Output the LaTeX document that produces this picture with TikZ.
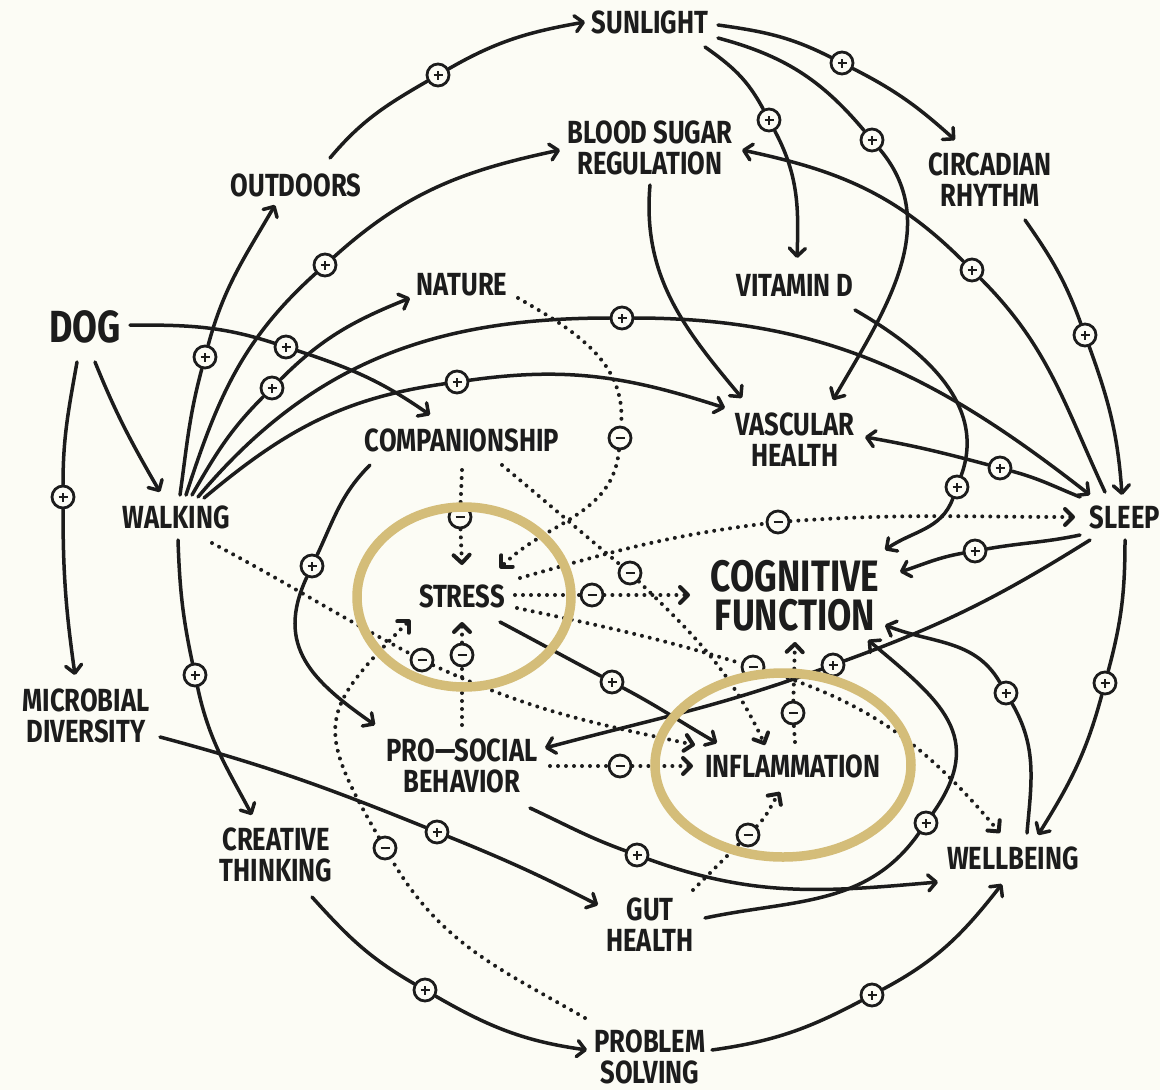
\documentclass[tikz,border=0pt]{standalone}
\usepackage{fontspec}
\setmainfont{Fira Sans}[FakeStretch=0.8]
\usetikzlibrary{arrows.meta,calc}
\definecolor{paper}{RGB}{252,252,245}
\definecolor{ink}{RGB}{28,28,28}
\definecolor{gold}{RGB}{212,189,121}
\begin{document}
\begin{tikzpicture}[x=1pt,y=1pt,
  lbl/.style={font=\fontsize{32}{31}\selectfont\bfseries, text=ink, inner sep=0pt, align=center},
  doglbl/.style={font=\fontsize{45}{45}\selectfont\bfseries, text=ink, inner sep=0pt},
  biglbl/.style={font=\fontsize{44}{44}\selectfont\bfseries, text=ink, inner sep=0pt,
      text height=31pt, text depth=0pt},
  mk/.style={circle, draw=ink, line width=2.8pt, fill=paper, minimum size=22pt, inner sep=0pt},
  plus/.style={mk, path picture={
      \draw[ink,line width=2.1pt] ($(path picture bounding box.center)+(-4.5,0)$) -- ++(9,0)
        ($(path picture bounding box.center)+(0,-4.5)$) -- ++(0,9);}},
  minus/.style={mk, path picture={
      \draw[ink,line width=2.1pt] ($(path picture bounding box.center)+(-4.5,0)$) -- ++(9,0);}},
  link/.style={draw=ink, line width=3.5pt, line cap=round,
      -{Straight Barb[length=8pt,width=16pt,round]}},
  dotlink/.style={link, line width=4pt, dash pattern=on 0pt off 8pt},
  ring/.style={draw=gold, line width=9.5pt}
]
\fill[paper] (0,0) rectangle (1160,-1090);
\useasboundingbox (0,0) rectangle (1160,-1090);

% factors
\node[lbl] (sunlight)  at (650,-22)   {SUNLIGHT};
\node[lbl] (bsr)       at (650,-148)  {BLOOD SUGAR\\REGULATION};
\node[lbl] (circ)      at (990,-180)  {CIRCADIAN\\RHYTHM};
\node[lbl] (outdoors)  at (296,-185)  {OUTDOORS};
\node[lbl] (nature)    at (462,-285)  {NATURE};
\node[lbl] (vitd)      at (795,-285)  {VITAMIN D};
\node[doglbl] (dog)    at (85,-327)   {DOG};
\node[lbl] (comp)      at (462,-440)  {COMPANIONSHIP};
\node[lbl] (vasc)      at (795,-440)  {VASCULAR\\HEALTH};
\node[lbl] (walking)   at (176,-517)  {WALKING};
\node[lbl] (sleep)     at (1125,-517) {SLEEP};
\node[lbl] (stress)    at (462,-596)  {STRESS};
% the central outcome, set as two stacked lines
\coordinate (cog) at (795,-595);
\node[biglbl] (cogA) at (795,-576) {COGNITIVE};
\node[biglbl] (cogB) at (795,-615) {FUNCTION};
\node[lbl] (micro)     at (86,-716)   {MICROBIAL\\DIVERSITY};
\node[lbl] (prosocial) at (462,-766)  {PRO—SOCIAL\\BEHAVIOR};
\node[lbl] (inflam)    at (793,-766)  {INFLAMMATION};
\node[lbl] (creative)  at (276,-855)  {CREATIVE\\THINKING};
\node[lbl] (wellbeing) at (1013,-858) {WELLBEING};
\node[lbl] (gut)       at (650,-925)  {GUT\\HEALTH};
\node[lbl] (problem)   at (650,-1057) {PROBLEM\\SOLVING};

% polarity markers: reinforcing
\node[plus] (p1)  at (438,-75)   {};
\node[plus] (p2)  at (205,-357)  {};
\node[plus] (p3)  at (325,-265)  {};
\node[plus] (p4)  at (272,-388)  {};
\node[plus] (p5)  at (622,-318)  {};
\node[plus] (p6)  at (457,-382)  {};
\node[plus] (p7)  at (286,-347)  {};
\node[plus] (p9)  at (63,-497)   {};
\node[plus] (p10) at (195,-675)  {};
\node[plus] (p11) at (842,-63)   {};
\node[plus] (p12) at (769,-120)  {};
\node[plus] (p13) at (872,-140)  {};
\node[plus] (p15) at (1085,-335) {};
\node[plus] (p16) at (972,-270)  {};
\node[plus] (p17) at (1000,-468) {};
\node[plus] (p18) at (957,-487)  {};
\node[plus] (p19) at (975,-551)  {};
\node[plus] (p20) at (833,-665)  {};
\node[plus] (p21) at (1105,-683) {};
\node[plus] (p22) at (1006,-693) {};
\node[plus] (p23) at (926,-823)  {};
\node[plus] (p24) at (637,-855)  {};
\node[plus] (p25) at (437,-832)  {};
\node[plus] (p26) at (425,-990)  {};
\node[plus] (p27) at (872,-995)  {};
\node[plus] (p28) at (312,-566)  {};
\node[plus] (p29) at (612,-682)  {};

% polarity markers: balancing
\node[minus] (n1)  at (620,-438) {};
\node[minus] (n2)  at (460,-517) {};
\node[minus] (n3)  at (630,-573) {};
\node[minus] (n4)  at (592,-595) {};
\node[minus] (n5)  at (778,-522) {};
\node[minus] (n6)  at (753,-667) {};
\node[minus] (n7)  at (462,-655) {};
\node[minus] (n8)  at (422,-660) {};
\node[minus] (n9)  at (620,-766) {};
\node[minus] (n10) at (748,-835) {};
\node[minus] (n11) at (793,-713) {};
\node[minus] (n12) at (385,-848) {};

% reinforcing links
\draw[link] ($(outdoors)+(34,27)$) to[out=50,in=210] (p1) to[out=30,in=190] ($(sunlight)+(-65,0)$);
\draw[link] ($(walking)+(4,22)$) to[out=82,in=-105] (p2) to[out=75,in=-120] ($(outdoors)+(-21,-20)$);
\draw[link] ($(walking)+(10,22)$) to[out=72,in=222] (p3) to[out=42,in=192] ($(bsr)+(-90,-2)$);
\draw[link] ($(walking)+(16,22)$) to[out=60,in=225] (p4) to[out=45,in=202] ($(nature)+(-52,-13)$);
\draw[link] ($(walking)+(22,20)$) to[out=50,in=180] (p5) to[out=0,in=142] ($(sleep)+(-35,22)$);
\draw[link] ($(walking)+(28,19)$) to[out=40,in=188] (p6) to[out=8,in=162] ($(vasc)+(-70,32)$);
\draw[link] ($(dog)+(45,2)$) to[out=0,in=162] (p7) to[out=-18,in=145] ($(comp)+(-32,25)$);
\draw[link] ($(dog)+(10,-35)$) to[out=-68,in=120] ($(walking)+(-16,25)$);
\draw[link] ($(dog)+(-8,-35)$) to[out=-100,in=90] (p9) to[out=-90,in=98] ($(micro)+(-11,41)$);
\draw[link] ($(walking)+(2,-23)$) to[out=-88,in=102] (p10) to[out=-78,in=118] ($(creative)+(-24,40)$);
\draw[link] ($(sunlight)+(68,-3)$) to[out=-8,in=153] (p11) to[out=-27,in=138] ($(circ)+(-35,40)$);
\draw[link] ($(sunlight)+(55,-25)$) to[out=-35,in=118] (p12) to[out=-62,in=88] ($(vitd)+(2,27)$);
\draw[link] ($(sunlight)+(68,-16)$) to[out=-15,in=130] (p13) to[out=-50,in=60] ($(vasc)+(38,40)$);
\draw[link] ($(bsr)+(0,-37)$) to[out=-95,in=130] ($(vasc)+(-53,42)$);
\draw[link] ($(circ)+(35,-40)$) to[out=-55,in=110] (p15) to[out=-70,in=94] ($(sleep)+(-3,22)$);
\draw[link] ($(sleep)+(-20,25)$) to[out=115,in=-45] (p16) to[out=135,in=-12] ($(bsr)+(92,-2)$);
\draw[link] ($(sleep)+(-45,20)$) to[out=158,in=-15] (p17) to[out=165,in=-10] ($(vasc)+(70,3)$);
\draw[link] ($(vitd)+(60,-25)$) to[out=-30,in=70] (p18) to[out=-110,in=35] ($(cog)+(90,45)$);
\draw[link] ($(sleep)+(-45,-18)$) to[out=192,in=10] (p19) to[out=190,in=18] ($(cog)+(105,23)$);
\draw[link] ($(sleep)+(-35,-23)$) to[out=212,in=20] (p20) to[out=200,in=15] ($(prosocial)+(83,18)$);
\draw[link] ($(sleep)+(0,-23)$) to[out=-90,in=75] (p21) to[out=-105,in=58] ($(wellbeing)+(25,23)$);
\draw[link] ($(wellbeing)+(14,25)$) to[out=85,in=-60] (p22) to[out=120,in=-22] ($(cog)+(90,-30)$);
\draw[link] ($(gut)+(55,7)$) to[out=12,in=235] (p23) to[out=55,in=-40,looseness=1.3] ($(cog)+(73,-45)$);
\draw[link] ($(prosocial)+(68,-42)$) to[out=-25,in=160] (p24) to[out=-20,in=185] ($(wellbeing)+(-75,-24)$);
\draw[link] ($(micro)+(74,-21)$) to[out=-15,in=158] (p25) to[out=-22,in=153] ($(gut)+(-52,20)$);
\draw[link] ($(creative)+(36,-42)$) to[out=-48,in=150] (p26) to[out=-30,in=172] ($(problem)+(-63,7)$);
\draw[link] ($(problem)+(62,7)$) to[out=8,in=208] (p27) to[out=28,in=232] ($(wellbeing)+(-11,-26)$);
\draw[link] ($(comp)+(-92,-25)$) to[out=225,in=65] (p28) to[out=-115,in=145,looseness=1.2] ($(prosocial)+(-87,41)$);
\draw[link] ($(stress)+(38,-26)$) to[out=-28,in=152] (p29) to[out=-28,in=150] ($(inflam)+(-76,23)$);

% balancing links
\draw[dotlink] ($(nature)+(56,-13)$) to[out=-30,in=85] (n1) to[out=-95,in=45] ($(stress)+(38,28)$);
\draw[dotlink] ($(comp)+(0,-30)$) -- (n2) -- ($(stress)+(0,31)$);
\draw[dotlink] ($(comp)+(40,-25)$) to[out=-40,in=140] (n3) to[out=-44,in=115] ($(inflam)+(-28,21)$);
\draw[dotlink] ($(stress)+(53,1)$) -- (n4) -- ($(cog)+(-105,0)$);
\draw[dotlink] ($(stress)+(58,18)$) to[out=16,in=187] (n5) to[out=4,in=180] ($(sleep)+(-50,0)$);
\draw[dotlink] ($(stress)+(55,-12)$) to[out=-12,in=163] (n6) to[out=-17,in=130] ($(wellbeing)+(-13,25)$);
\draw[dotlink] ($(prosocial)+(0,41)$) -- (n7) -- ($(stress)+(0,-26)$);
\draw[dotlink] ($(walking)+(36,-26)$) to[out=-28,in=152] (n8) to[out=-25,in=168] ($(inflam)+(-98,21)$);
\draw[dotlink] ($(prosocial)+(88,0)$) -- (n9) -- ($(inflam)+(-100,0)$);
\draw[dotlink] ($(gut)+(43,35)$) to[out=45,in=225] (n10) to[out=45,in=235] ($(inflam)+(-13,-26)$);
\draw[dotlink] ($(inflam)+(2,24)$) -- (n11) -- ($(cog)+(0,-47)$);
\draw[dotlink] ($(problem)+(-65,39)$) to[out=150,in=-60] (n12) to[out=120,in=225,looseness=1.5] ($(stress)+(-52,-24)$);

% highlight rings
\draw[ring] (464,-597) ellipse[x radius=107, y radius=90];
\draw[ring] (783,-765) ellipse[x radius=128, y radius=92];
\end{tikzpicture}
\end{document}
